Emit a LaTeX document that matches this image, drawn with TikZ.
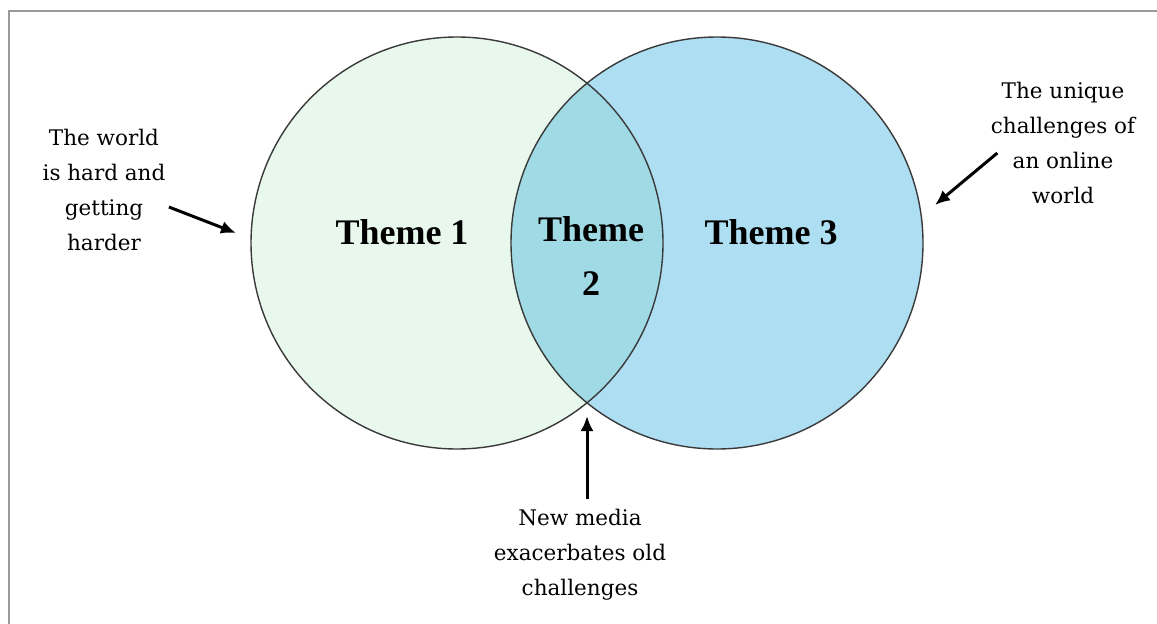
\documentclass[tikz,border=0pt]{standalone}
\usepackage{fontspec}
\setmainfont{Liberation Serif}
\newfontfamily\notefont{DejaVu Serif}
\usetikzlibrary{calc,arrows.meta}

\definecolor{themeone}{HTML}{E8F8EC}
\definecolor{themethree}{HTML}{AEDEF2}
\definecolor{themetwo}{HTML}{A0DAE4}
\definecolor{frame}{HTML}{9A9A9A}
\definecolor{rim}{HTML}{3A3A3A}

\tikzset{
  theme/.style={font=\fontsize{36}{54}\selectfont\bfseries,align=center},
  note/.style={font=\notefont\fontsize{21.5}{35}\selectfont,align=center},
  pointer/.style={-{Latex[length=15pt,width=13pt]},line width=3pt}
}

\begin{document}
\begin{tikzpicture}[x=1pt,y=-1pt]
  \useasboundingbox (0,0) rectangle (1157,624);
  \draw[frame,line width=2pt] (9,624) -- (9,11) -- (1157,11);

  \coordinate (left) at (457,243);
  \coordinate (right) at (717,243);

  \fill[themeone] (left) circle [radius=206];
  \fill[themethree] (right) circle [radius=206];
  \begin{scope}
    \clip (left) circle [radius=206];
    \fill[themetwo] (right) circle [radius=206];
  \end{scope}
  \draw[rim,line width=1.4pt] (left) circle [radius=206];
  \draw[rim,line width=1.4pt] (right) circle [radius=206];

  \node[theme] (t1) at (402,232) {Theme 1};
  \node[theme] (t2) at (591,256) {Theme\\2};
  \node[theme] (t3) at (771,232) {Theme 3};

  \node[note] (world) at (104,190) {The world\\is hard and\\getting\\harder};
  \node[note] (online) at (1063,143) {The unique\\challenges of\\an online\\world};
  \node[note] (media) at (580,555) {New media\\exacerbates old\\challenges};

  \coordinate (hit1) at (236,233);
  \coordinate (hit3) at (935,205);
  \coordinate (hit2) at (587,416);

  \draw[pointer] ($(world.east)+(0,17)$) -- (hit1);
  \draw[pointer] ($(online.west)+(10,10)$) -- (hit3);
  \draw[pointer] ($(media.north)+(7,-7)$) -- (hit2);
\end{tikzpicture}
\end{document}
